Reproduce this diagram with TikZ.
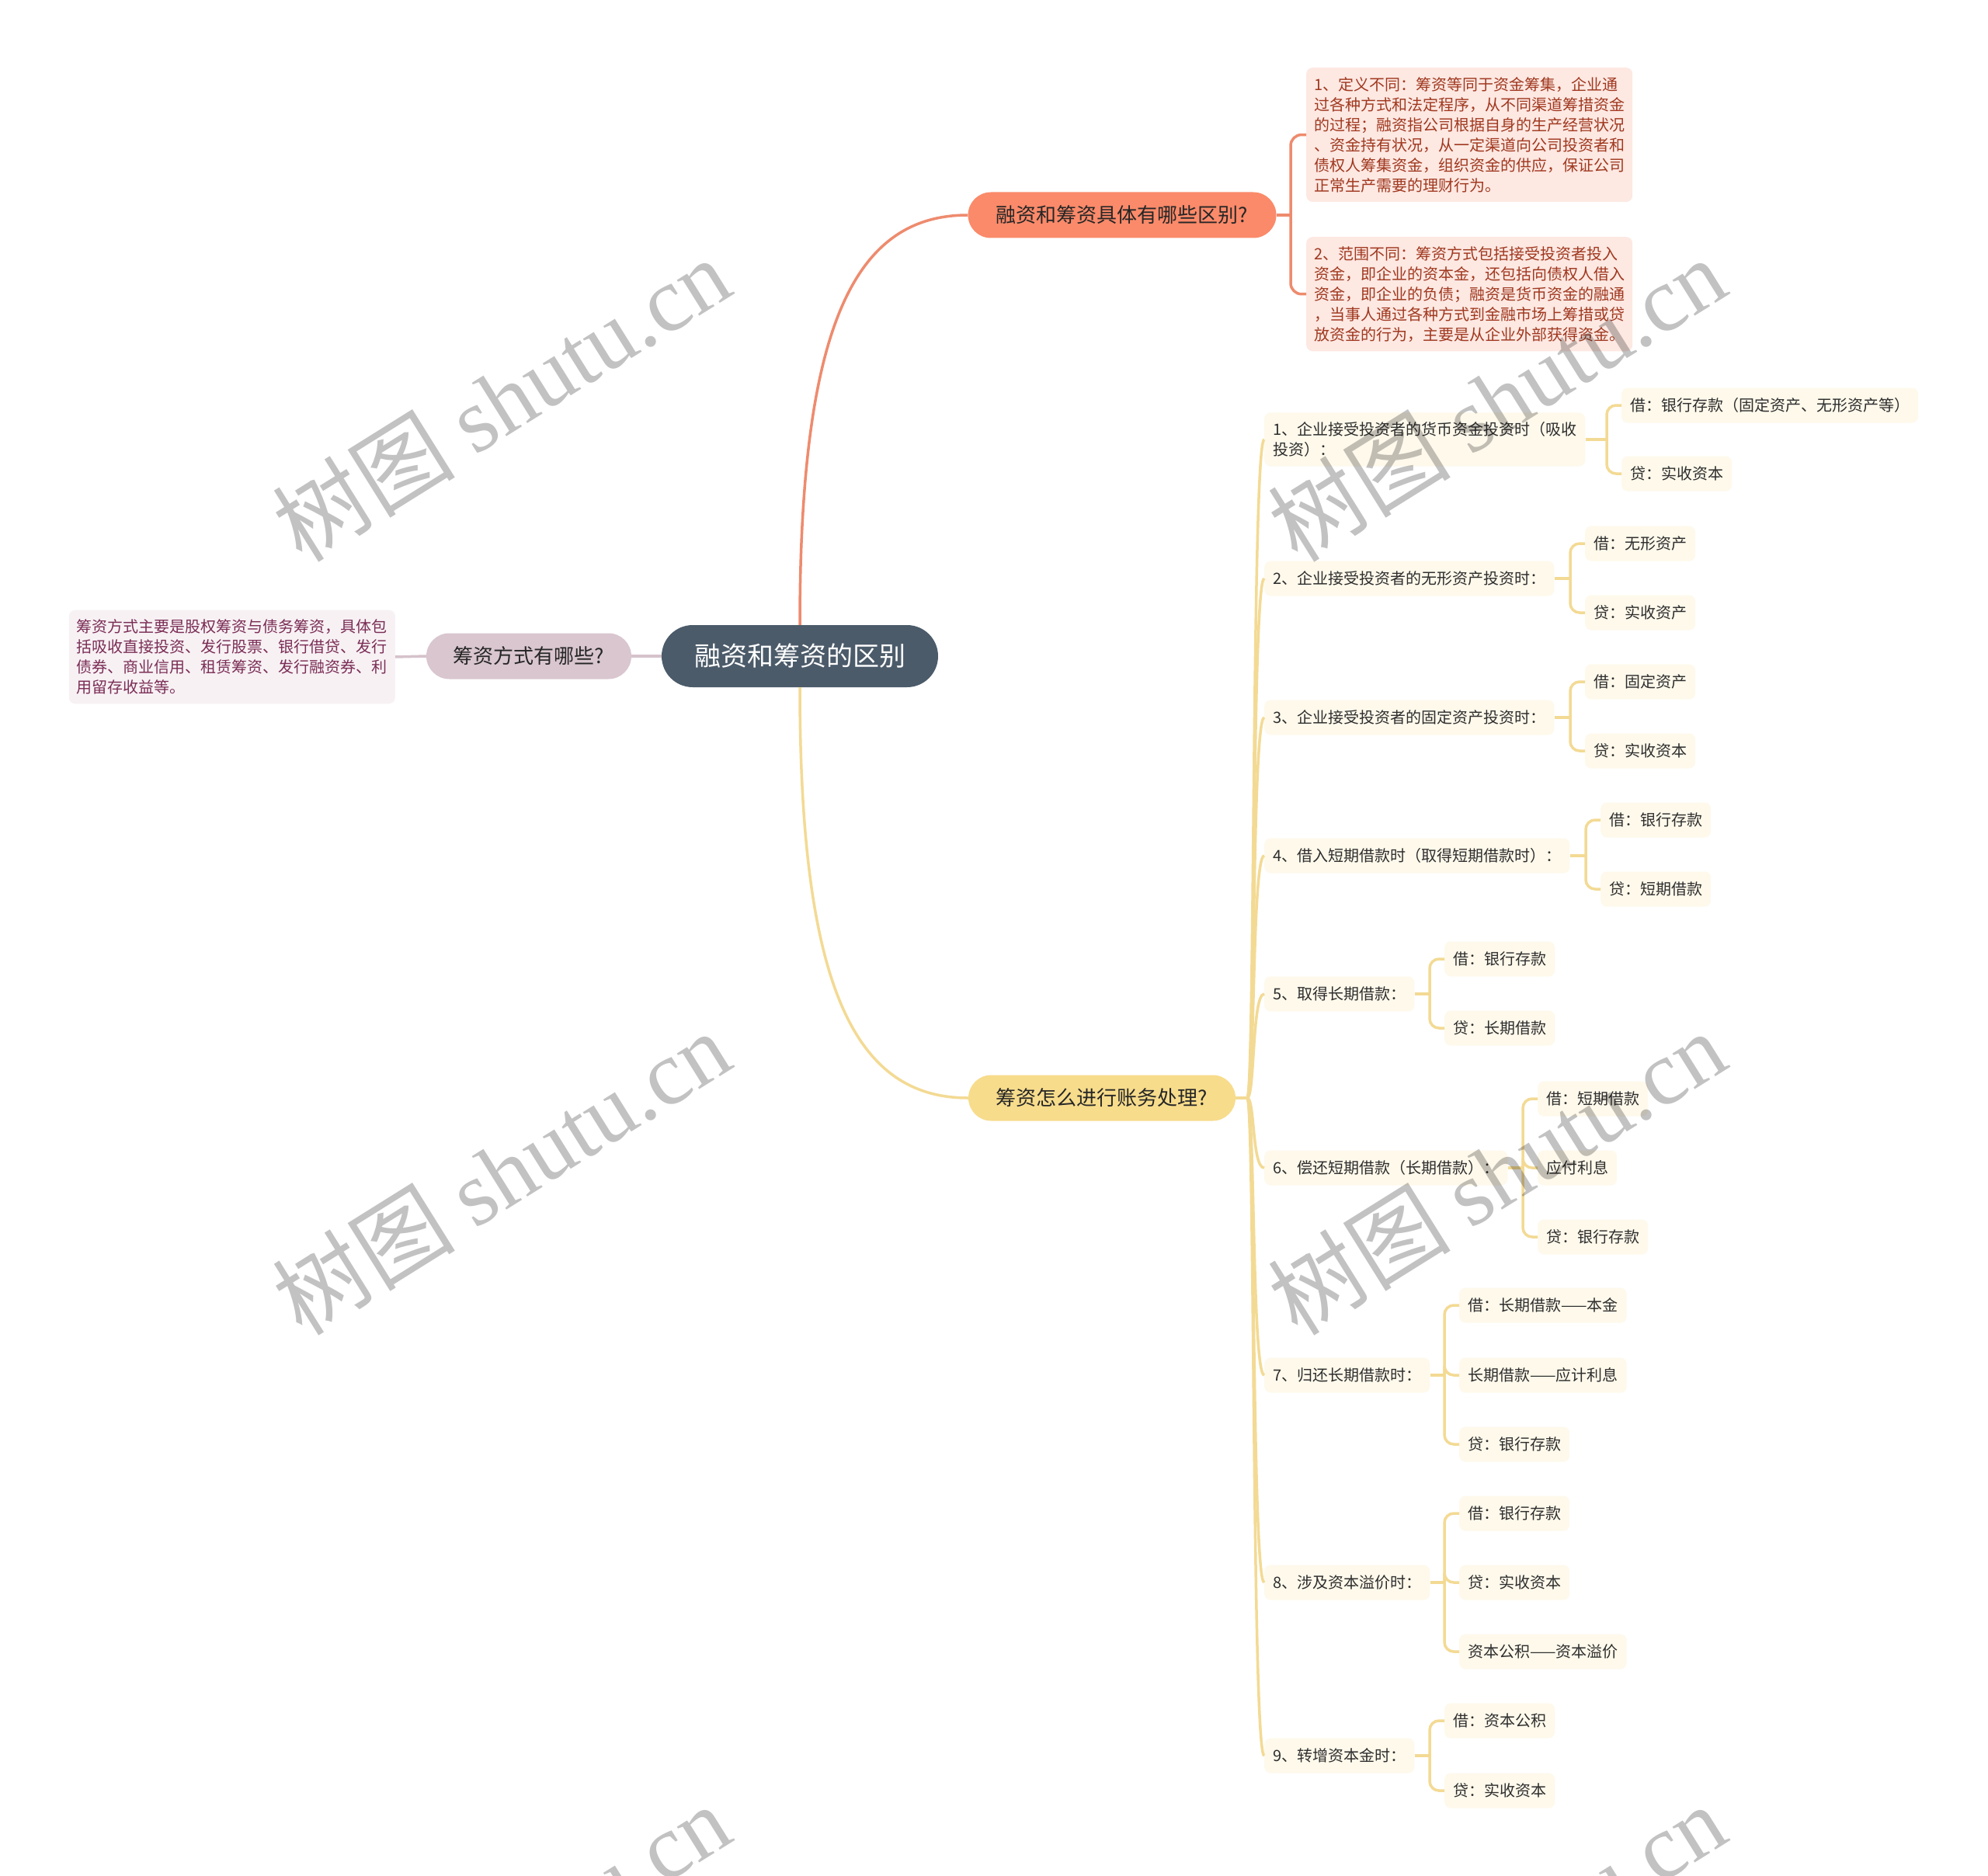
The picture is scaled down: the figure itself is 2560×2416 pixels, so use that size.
\documentclass[tikz,border=0pt]{standalone}
\usepackage{fontspec}
\setmainfont{Noto Sans CJK SC}
\newfontfamily\wmlatin{Liberation Serif}
\definecolor{cdark}{HTML}{4C5B6A}
\definecolor{csalmon}{HTML}{FA8A6A}
\definecolor{csalmonline}{HTML}{EE8B6E}
\definecolor{cpinkbox}{HTML}{FDE8E2}
\definecolor{credtext}{HTML}{A0381F}
\definecolor{cmauve}{HTML}{D9C6CF}
\definecolor{cmauveline}{HTML}{D6C2CB}
\definecolor{cmauvebox}{HTML}{F7F1F4}
\definecolor{cmauvetext}{HTML}{7B2D55}
\definecolor{cyellow}{HTML}{F7DC8C}
\definecolor{cyellowline}{HTML}{F3DA94}
\definecolor{ccream}{HTML}{FEF9EB}
\definecolor{cleaftext}{HTML}{2E2E2E}
\begin{document}
\begin{tikzpicture}[x=1pt,y=-1pt,
 rootnode/.style={fill=cdark,text=white,font=\fontsize{34}{40}\selectfont,minimum width=356pt,minimum height=80pt,rounded corners=40pt,inner sep=0pt},
 branchnode/.style={minimum height=59pt,rounded corners=29.5pt,inner sep=0pt,font=\fontsize{26}{32}\selectfont,text=black!85},
 notebox/.style={rounded corners=8pt,inner xsep=10pt,inner ysep=12pt,align=left,font=\fontsize{20}{26}\selectfont},
 leaf/.style={fill=ccream,text=cleaftext,rounded corners=8pt,inner xsep=11pt,inner ysep=0pt,minimum height=45pt,anchor=west,align=left,font=\fontsize{20}{26}\selectfont},
 yline/.style={draw=cyellowline,line width=3.5pt},
 ybracket/.style={draw=cyellowline,line width=3.5pt,rounded corners=12pt},
 sline/.style={draw=csalmonline,line width=3.5pt},
 mline/.style={draw=cmauveline,line width=3.5pt},
 wm/.style={text=black,opacity=0.24,rotate=32,font=\fontsize{118}{118}\selectfont}
]
\path[use as bounding box,fill=white] (0,0) rectangle (2560,2416);
\clip (0,0) rectangle (2560,2416);

% main nodes
\node[rootnode] (root) at (1030,845) {融资和筹资的区别};
\node[branchnode,fill=csalmon,minimum width=397pt] (b1) at (1445,277) {融资和筹资具体有哪些区别?};
\node[branchnode,fill=cmauve,minimum width=264pt] (b2) at (681,845) {筹资方式有哪些?};
\node[branchnode,fill=cyellow,minimum width=344pt] (b3) at (1419,1414) {筹资怎么进行账务处理?};

% notes
\node[notebox,fill=cpinkbox,text=credtext,anchor=north west] (n1) at (1682,87) {1、定义不同：筹资等同于资金筹集，企业通\\过各种方式和法定程序，从不同渠道筹措资金\\的过程；融资指公司根据自身的生产经营状况\\、资金持有状况，从一定渠道向公司投资者和\\债权人筹集资金，组织资金的供应，保证公司\\正常生产需要的理财行为。};
\node[notebox,fill=cpinkbox,text=credtext,anchor=north west] (n2) at (1682,305) {2、范围不同：筹资方式包括接受投资者投入\\资金，即企业的资本金，还包括向债权人借入\\资金，即企业的负债；融资是货币资金的融通\\，当事人通过各种方式到金融市场上筹措或贷\\放资金的行为，主要是从企业外部获得资金。};
\node[notebox,fill=cmauvebox,text=cmauvetext,anchor=east] (n3) at (509,846) {筹资方式主要是股权筹资与债务筹资，具体包\\括吸收直接投资、发行股票、银行借贷、发行\\债券、商业信用、租赁筹资、发行融资券、利\\用留存收益等。};

% items
\node[leaf,inner ysep=12pt] (i1) at (1628,566) {1、企业接受投资者的货币资金投资时（吸收\\投资）：};
\node[leaf] (i2) at (1628,745) {2、企业接受投资者的无形资产投资时：};
\node[leaf] (i3) at (1628,924) {3、企业接受投资者的固定资产投资时：};
\node[leaf] (i4) at (1628,1102) {4、借入短期借款时（取得短期借款时）：};
\node[leaf] (i5) at (1628,1280) {5、取得长期借款：};
\node[leaf] (i6) at (1628,1504) {6、偿还短期借款（长期借款）：};
\node[leaf] (i7) at (1628,1771) {7、归还长期借款时：};
\node[leaf] (i8) at (1628,2038) {8、涉及资本溢价时：};
\node[leaf] (i9) at (1628,2261) {9、转增资本金时：};

% children
\node[leaf] (c11) at (2088,522) {借：银行存款（固定资产、无形资产等）};
\node[leaf] (c12) at (2088,610) {贷：实收资本};
\node[leaf] (c21) at (2041,700) {借：无形资产};
\node[leaf] (c22) at (2041,789) {贷：实收资产};
\node[leaf] (c31) at (2041,878) {借：固定资产};
\node[leaf] (c32) at (2041,967) {贷：实收资本};
\node[leaf] (c41) at (2061,1056) {借：银行存款};
\node[leaf] (c42) at (2061,1145) {贷：短期借款};
\node[leaf] (c51) at (1860,1235) {借：银行存款};
\node[leaf] (c52) at (1860,1324) {贷：长期借款};
\node[leaf] (c61) at (1980,1415) {借：短期借款};
\node[leaf] (c62) at (1980,1504) {应付利息};
\node[leaf] (c63) at (1980,1593) {贷：银行存款};
\node[leaf] (c71) at (1879,1681) {借：长期借款——本金};
\node[leaf] (c72) at (1879,1771) {长期借款——应计利息};
\node[leaf] (c73) at (1879,1860) {贷：银行存款};
\node[leaf] (c81) at (1879,1949) {借：银行存款};
\node[leaf] (c82) at (1879,2038) {贷：实收资本};
\node[leaf] (c83) at (1879,2127) {资本公积——资本溢价};
\node[leaf] (c91) at (1860,2216) {借：资本公积};
\node[leaf] (c92) at (1860,2306) {贷：实收资本};

% main connectors
\draw[sline] (root.north) .. controls (1030,420) and (1100,277) .. (b1.west);
\draw[yline] (root.south) .. controls (1030,1270) and (1100,1414) .. (b3.west);
\draw[mline] (root.west) -- (b2.east);
\draw[mline] (b2.west) -- (n3.east);

% top bracket
\coordinate (k0) at (1662,277);
\draw[sline] (b1.east) -- (k0);
\draw[sline,rounded corners=14pt] (k0) |- (n1.west);
\draw[sline,rounded corners=14pt] (k0) |- (n2.west);

% trunk
\coordinate (t0) at (1606,1414);
\draw[yline] (b3.east) -- (t0);
\foreach \n in {1,...,9}{
  \draw[yline] (t0) .. controls +(10,0) and +(-16,0) .. (i\n.west);
}

% child brackets
\coordinate (k1) at (2069,566);
\coordinate (k2) at (2022,745);
\coordinate (k3) at (2022,924);
\coordinate (k4) at (2042,1102);
\coordinate (k5) at (1841,1280);
\coordinate (k6) at (1961,1504);
\coordinate (k7) at (1860,1771);
\coordinate (k8) at (1860,2038);
\coordinate (k9) at (1841,2261);
\foreach \n in {1,...,9}{
  \draw[yline] (i\n.east) -- (k\n);
  \draw[ybracket] (k\n) |- (c\n1.west);
  \draw[ybracket] (k\n) |- (c\n2.west);
}
\draw[ybracket] (k6) |- (c63.west);
\draw[ybracket] (k7) |- (c73.west);
\draw[ybracket] (k8) |- (c83.west);

% watermarks
\node[wm] at (645,514) {树图 {\wmlatin shutu.cn}};
\node[wm] at (1927,514) {树图 {\wmlatin shutu.cn}};
\node[wm] at (645,1510) {树图 {\wmlatin shutu.cn}};
\node[wm] at (1927,1510) {树图 {\wmlatin shutu.cn}};
\node[wm] at (645,2506) {树图 {\wmlatin shutu.cn}};
\node[wm] at (1927,2506) {树图 {\wmlatin shutu.cn}};
\end{tikzpicture}
\end{document}
